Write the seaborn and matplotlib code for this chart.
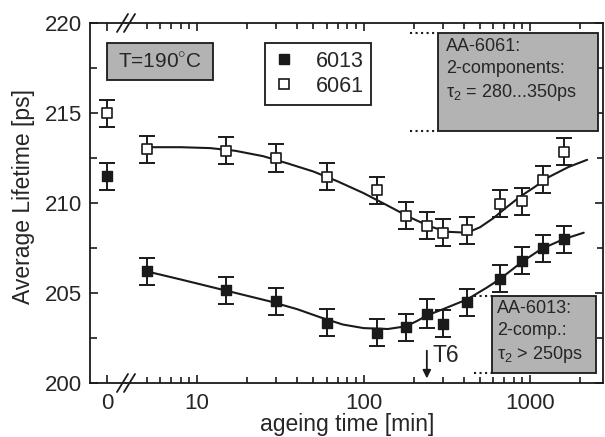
import numpy as np
import pandas as pd
import matplotlib
matplotlib.use("Agg")
import matplotlib.pyplot as plt
import seaborn as sns
from matplotlib.lines import Line2D
from matplotlib.patches import Rectangle
from matplotlib.ticker import FixedLocator, NullFormatter

# ageing times [min]; t = 0 is drawn in its own little panel left of the break
t0 = [0]
times = [5, 15, 30, 60, 120, 180, 240, 300, 420, 660, 900, 1200, 1600]

# average positron lifetime [ps] with error bars
aa6013_t0 = [211.5]
aa6013 = [206.2, 205.15, 204.55, 203.35, 202.8, 203.1, 203.85, 203.3, 204.5, 205.8, 206.8, 207.5, 208.0]
err6013_t0 = [0.75]
err6013 = [0.75, 0.75, 0.75, 0.75, 0.75, 0.75, 0.8, 0.75, 0.75, 0.75, 0.75, 0.75, 0.75]

aa6061_t0 = [215.0]
aa6061 = [213.0, 212.9, 212.5, 211.45, 210.7, 209.3, 208.75, 208.35, 208.5, 209.95, 210.1, 211.3, 212.85]
err6061_t0 = [0.75]
err6061 = [0.75, 0.75, 0.77, 0.75, 0.75, 0.75, 0.75, 0.75, 0.75, 0.75, 0.75, 0.75, 0.75]

# guide-to-the-eye curves
fit6061_t = [5, 8, 12, 17, 25, 35, 50, 70, 100, 140, 190, 250, 320, 420, 500, 600, 720, 870, 1050, 1300, 1700, 2200]
fit6061 = [213.1, 213.1, 213.05, 212.9, 212.6, 212.2, 211.75, 211.2, 210.55, 209.85, 209.2, 208.7, 208.4, 208.35,
           208.65, 209.15, 209.75, 210.35, 210.85, 211.45, 212.0, 212.4]
fit6013_t = [5, 8, 12, 18, 27, 40, 55, 75, 100, 140, 180, 210, 240, 300, 420, 550, 665, 900, 1170, 1600, 2100]
fit6013 = [206.2, 205.75, 205.35, 204.95, 204.55, 204.1, 203.65, 203.25, 203.05, 203.0, 203.15, 203.45, 203.75,
           204.1, 204.65, 205.3, 205.8, 206.75, 207.45, 208.0, 208.35]

sns.set_theme(style="ticks", rc={"xtick.direction": "in", "ytick.direction": "in"})
plt.rcParams['font.family'] = ['Liberation Sans', 'DejaVu Sans']
plt.rcParams['mathtext.fontset'] = 'custom'
plt.rcParams['mathtext.rm'] = 'Liberation Sans'

ink = '#1a1a1a'
grey = '#b3b3b3'
W, H = 605, 437


def box(x0, y0, x1, y1):
    # pixel box -> figure fraction rect
    return [x0 / W, 1 - y1 / H, (x1 - x0) / W, (y1 - y0) / H]


fig = plt.figure(figsize=(W / 100, H / 100), dpi=100)
ax1 = fig.add_axes(box(90, 23, 126, 383))
ax2 = fig.add_axes(box(126, 23, 603, 383))

# ---- points with error bars: t = 0 on the left panel, the rest on the log panel
for ax, xs, y13, e13, y61, e61 in [(ax1, t0, aa6013_t0, err6013_t0, aa6061_t0, err6061_t0),
                                   (ax2, times, aa6013, err6013, aa6061, err6061)]:
    ax.errorbar(xs, y13, yerr=e13, fmt='none', ecolor=ink, elinewidth=1.4, capsize=6, capthick=1.4, zorder=2)
    ax.errorbar(xs, y61, yerr=e61, fmt='none', ecolor=ink, elinewidth=1.4, capsize=6, capthick=1.4, zorder=2)
    sns.scatterplot(x=xs, y=y13, marker='s', s=50, color=ink, edgecolor=ink, linewidth=1.0, zorder=4, ax=ax)
    sns.scatterplot(x=xs, y=y61, marker='s', s=50, color='white', edgecolor=ink, linewidth=1.2, zorder=4, ax=ax)

sns.lineplot(x=fit6061_t, y=fit6061, color=ink, lw=1.5, estimator=None, sort=False, zorder=3, ax=ax2)
sns.lineplot(x=fit6013_t, y=fit6013, color=ink, lw=1.5, estimator=None, sort=False, zorder=3, ax=ax2)

for ax in (ax1, ax2):
    ax.set_ylim(200, 220)
    ax.set_xlabel('')
    ax.set_ylabel('')
    for s in ax.spines.values():
        s.set_linewidth(1.3)
        s.set_color(ink)

ax1.set_xlim(-1, 1.12)
ax1.set_xticks([0])
ax1.set_yticks([200, 205, 210, 215, 220])
ax1.yaxis.set_minor_locator(FixedLocator([202.5, 207.5, 212.5, 217.5]))
ax1.spines['right'].set_visible(False)
ax1.tick_params(which='both', direction='in', top=True, right=False, color=ink, width=1.2, labelsize=16, pad=6)
ax1.tick_params(which='major', length=6)
ax1.tick_params(which='minor', length=5)
ax1.tick_params(axis='x', pad=7)

ax2.set_xscale('log')
ax2.set_xlim(3.75, 2740)
ax2.xaxis.set_major_locator(FixedLocator([10, 100, 1000]))
ax2.set_xticklabels(['10', '100', '1000'])
ax2.xaxis.set_minor_locator(FixedLocator([5, 6, 7, 8, 9, 20, 30, 40, 50, 60, 70, 80, 90,
                                          200, 300, 400, 500, 600, 700, 800, 900, 2000]))
ax2.xaxis.set_minor_formatter(NullFormatter())
ax2.set_yticks([200, 205, 210, 215, 220])
ax2.yaxis.set_minor_locator(FixedLocator([202.5, 207.5, 212.5, 217.5]))
ax2.spines['left'].set_visible(False)
ax2.tick_params(which='both', direction='in', top=True, right=True, left=False, labelleft=False,
                color=ink, width=1.2, labelsize=16)
ax2.tick_params(which='major', length=6)
ax2.tick_params(which='minor', length=4)
ax2.tick_params(axis='x', pad=7)

# axis break marks
for yp in (23, 383):
    for dx in (0, 7):
        fig.add_artist(Line2D([(117 + dx) / W, (128 + dx) / W], [1 - (yp + 9) / H, 1 - (yp - 9) / H],
                              color=ink, lw=1.3))

fig.text(24 / W, 1 - 196 / H, 'Average Lifetime [ps]', rotation=90, ha='center', va='center', fontsize=16.5)
fig.text(347 / W, 1 - 431 / H, 'ageing time [min]', ha='center', va='baseline', fontsize=16.5)

# T = 190 C label
fig.add_artist(Rectangle((107 / W, 1 - 80 / H), 106 / W, 37 / H, transform=fig.transFigure,
                         facecolor=grey, edgecolor=ink, lw=1.3, zorder=5))
fig.text(160 / W, 1 - 62 / H, 'T=190$^{\\circ}$C', ha='center', va='center', fontsize=15, zorder=6)

# legend
handles = [Line2D([], [], ls='none', marker='s', ms=7, color=ink, mfc=ink, mec=ink),
           Line2D([], [], ls='none', marker='s', ms=7, color=ink, mfc='white', mec=ink, mew=1.2)]
leg = ax2.legend(handles, ['6013', '6061'], loc='upper left', bbox_to_anchor=(0.292, 0.944),
                 fontsize=15.5, frameon=True, fancybox=False, framealpha=1, borderaxespad=0,
                 borderpad=0.35, handlelength=1.0, handletextpad=1.0, labelspacing=0.2)
leg.get_frame().set_edgecolor(ink)
leg.get_frame().set_linewidth(1.3)
leg.set_zorder(6)


def ax_px(x, y):
    return (x - 126) / 477, (383 - y) / 360


# AA-6061 box
x0, y1 = ax_px(438, 131)
x1, y0 = ax_px(598, 33)
ax2.add_patch(Rectangle((x0, y1), x1 - x0, y0 - y1, transform=ax2.transAxes,
                        facecolor=grey, edgecolor=ink, lw=1.3, zorder=5, clip_on=False))
xd, _ = ax_px(410, 0)
ax2.plot([xd, x0], [y0, y0], ls=':', color=ink, lw=1.5, transform=ax2.transAxes, clip_on=False)
ax2.plot([xd, x0], [y1, y1], ls=':', color=ink, lw=1.5, transform=ax2.transAxes, clip_on=False)
tx, ty = ax_px(446, 38)
ax2.text(tx, ty, 'AA-6061:\n2-components:\nτ$_2$ = 280...350ps', transform=ax2.transAxes,
         ha='left', va='top', fontsize=13, linespacing=1.35, zorder=6)

# AA-6013 box
x0, y1 = ax_px(492, 373)
x1, y0 = ax_px(596, 296)
ax2.add_patch(Rectangle((x0, y1), x1 - x0, y0 - y1, transform=ax2.transAxes,
                        facecolor=grey, edgecolor=ink, lw=1.3, zorder=5, clip_on=False))
xd, _ = ax_px(474, 0)
ax2.plot([xd, x0], [y0, y0], ls=':', color=ink, lw=1.5, transform=ax2.transAxes, clip_on=False)
ax2.plot([xd, x0], [y1, y1], ls=':', color=ink, lw=1.5, transform=ax2.transAxes, clip_on=False)
tx, ty = ax_px(497, 300)
ax2.text(tx, ty, 'AA-6013:\n2-comp.:\nτ$_2$ > 250ps', transform=ax2.transAxes,
         ha='left', va='top', fontsize=13, linespacing=1.35, zorder=6)

# T6 marker
ax2.annotate('', xy=(240, 200.1), xytext=(240, 201.95),
             arrowprops=dict(arrowstyle='-|>', color=ink, lw=1.3, mutation_scale=12))
ax2.text(258, 201.55, 'T6', ha='left', va='center', fontsize=16.5)

fig.savefig('out.png', dpi=100)
